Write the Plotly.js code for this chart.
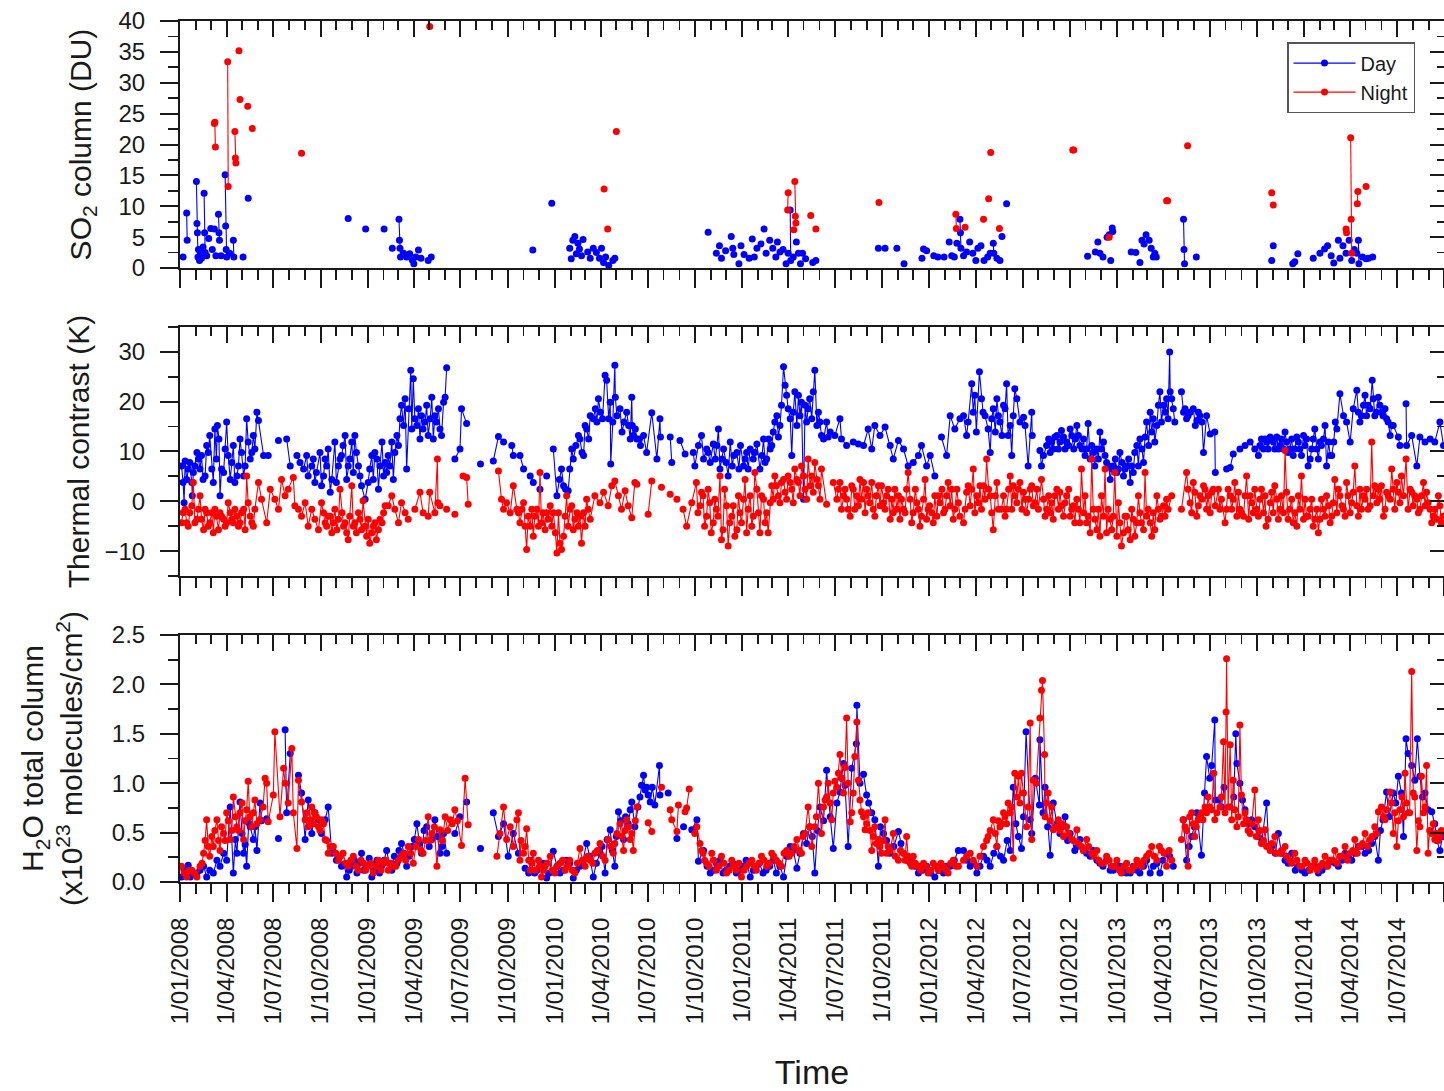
<!DOCTYPE html>
<html>
<head>
<meta charset="utf-8">
<script src="https://cdn.plot.ly/plotly-3.0.1.min.js"></script>
<style>
  html, body { margin: 0; padding: 0; background: #fff; }
  #chart { width: 1444px; height: 1091px; }
</style>
</head>
<body>
<div id="chart"></div>
<script>
// Daily observations, stored as [days since 1 Jan 2008, value].

// SO2 column (DU)
const so2Day = [
  [6,1.8],[13,8.9],[14,4.5],[32,14.0],[33,7.2],[34,5.7],[35,1.8],[36,3.0],[38,1.2],[40,2.5],
  [42,1.6],[45,3.4],[47,12.1],[48,5.7],[49,2.5],[52,2.0],[56,4.8],[60,6.4],[63,3.0],[67,6.3],
  [70,2.0],[75,8.7],[76,5.7],[77,4.5],[80,2.0],[88,15.1],[89,6.8],[90,3.0],[91,1.8],[97,2.4],
  [104,4.5],[105,1.8],[123,1.8],[133,11.3],[328,8.0],[362,6.3],[398,6.3],[414,3.2],[427,7.9],[428,4.5],
  [429,3.2],[430,1.8],[436,2.4],[442,1.8],[448,2.3],[453,1.3],[456,0.7],[460,1.8],[465,2.9],[470,1.6],
  [484,1.2],[490,1.8],[688,2.9],[725,10.5],[760,3.2],[763,1.5],[766,4.5],[770,5.1],[773,2.3],[776,4.0],
  [779,3.1],[783,2.0],[786,4.6],[795,2.6],[800,1.6],[806,3.2],[812,2.5],[818,1.6],[822,3.2],[826,0.9],
  [830,1.8],[836,0.4],[844,1.2],[848,1.6],[1030,5.8],[1046,2.4],[1052,3.6],[1056,1.6],[1064,2.8],[1075,5.1],
  [1078,3.2],[1080,2.2],[1090,0.7],[1094,3.6],[1100,2.2],[1110,1.6],[1116,4.7],[1120,1.8],[1125,3.2],[1133,3.9],
  [1139,6.3],[1143,2.4],[1150,4.5],[1156,3.2],[1162,1.8],[1165,4.2],[1170,2.6],[1176,3.0],[1182,0.7],[1186,2.4],
  [1190,9.4],[1191,1.2],[1196,1.8],[1202,4.2],[1206,2.4],[1210,0.7],[1214,2.4],[1220,1.5],[1234,0.9],[1240,1.2],
  [1362,3.2],[1375,3.2],[1398,3.2],[1412,0.7],[1447,1.6],[1450,3.1],[1456,2.8],[1470,2.0],[1478,1.8],[1490,1.8],
  [1500,4.2],[1505,2.0],[1510,1.8],[1515,4.0],[1521,7.9],[1522,5.7],[1523,3.2],[1528,2.0],[1534,2.6],[1540,4.2],
  [1546,2.4],[1552,1.2],[1556,3.2],[1562,3.6],[1568,1.2],[1575,1.8],[1580,2.4],[1586,4.0],[1587,2.4],[1593,1.6],
  [1599,1.2],[1603,5.1],[1612,10.4],[1770,1.9],[1785,2.6],[1790,4.2],[1794,2.4],[1800,1.8],[1808,5.0],[1812,5.4],
  [1815,1.2],[1818,6.5],[1819,5.9],[1855,2.6],[1864,2.5],[1872,0.9],[1876,4.5],[1880,3.9],[1884,5.4],[1890,4.5],
  [1894,3.2],[1898,1.8],[1901,2.4],[1904,1.8],[1957,7.9],[1958,3.0],[1959,0.7],[1982,1.8],[2129,1.2],[2132,3.6],
  [2170,0.7],[2174,1.0],[2180,2.3],[2210,1.6],[2223,2.4],[2232,3.1],[2238,3.6],[2245,2.0],[2250,0.8],[2259,4.5],
  [2262,1.6],[2268,3.6],[2274,2.4],[2280,4.5],[2285,1.2],[2290,3.0],[2295,2.4],[2298,4.5],[2299,0.7],[2306,1.8],
  [2313,1.5],[2318,1.6],[2326,1.8]
];
const so2Night = [
  [67,23.4],[68,23.6],[69,19.6],[93,33.4],[94,13.2],[107,22.1],[108,17.8],[109,17.0],[115,35.2],[117,27.3],
  [132,26.2],[141,22.6],[237,18.6],[487,39.1],[827,12.8],[834,6.3],[851,22.1],[1185,9.4],[1186,12.2],[1197,6.2],
  [1199,14.0],[1200,8.4],[1201,7.3],[1230,8.5],[1240,6.3],[1363,10.6],[1513,8.7],[1514,6.4],[1531,6.6],[1567,7.9],
  [1577,11.2],[1581,18.7],[1598,6.4],[1741,19.1],[1743,19.1],[1812,5.0],[1924,10.9],[1926,10.9],[1965,19.8],[2129,12.2],
  [2132,10.2],[2274,6.3],[2275,5.7],[2283,21.1],[2284,7.9],[2285,2.4],[2296,10.4],[2297,12.4],[2313,13.2]
];

// Thermal contrast (K)
const tcDay = [
  [3,7.1],[6,3.8],[8,-0.3],[10,8.1],[16,6.5],[23,3.8],[24,1.1],[29,7.1],[33,9.8],[39,6.5],[42,9.2],[49,5.1],
  [52,11.2],[58,13.2],[65,3.8],[68,14.5],[73,15.2],[78,1.1],[81,6.5],[91,15.9],[94,9.2],[98,4.4],[104,11.2],
  [107,3.8],[114,7.1],[120,9.8],[124,5.1],[130,16.6],[133,11.9],[137,8.5],[143,13.2],[146,10.5],[150,17.9],
  [153,16.2],[163,9.2],[172,9.2],[192,12.2],[208,12.5],[215,7.1],[228,9.2],[234,7.8],[241,6.5],[247,9.2],
  [257,7.1],[263,3.8],[273,9.8],[280,5.1],[286,7.1],[293,1.8],[302,11.9],[309,7.1],[315,9.2],[322,13.2],
  [328,7.1],[335,11.9],[341,13.2],[348,7.1],[354,3.1],[361,0.4],[367,3.8],[374,9.2],[380,9.8],[387,2.4],
  [397,5.1],[406,9.2],[413,11.9],[416,4.4],[423,13.2],[429,16.6],[432,19.3],[439,20.6],[442,6.5],[450,26.3],
  [455,24.6],[458,16.6],[465,18.6],[471,17.2],[478,15.9],[484,13.2],[491,20.9],[497,17.2],[504,18.6],[510,13.2],
  [514,19.9],[517,20.9],[520,26.8],[536,8.5],[546,10.5],[549,18.6],[559,15.6],[586,7.5],
  [611,8.1],[621,13.0],[631,11.9],[647,11.2],[650,9.2],[663,9.2],[670,6.5],[683,5.1],[689,3.8],[702,2.4],
  [715,5.1],[728,10.5],[735,1.1],[748,3.1],[757,2.1],[764,10.5],[777,13.2],[787,9.2],[793,14.5],[806,16.6],
  [816,20.6],[829,25.3],[832,24.3],[839,19.9],[840,7.5],[848,27.3],[849,20.9],[858,18.6],[871,17.9],[881,20.9],
  [882,15.2],[884,13.2],[891,12.5],[904,13.2],[910,9.8],[920,17.8],[930,8.5],[936,16.6],[937,12.9],[956,12.9],
  [959,7.8],[975,12.2],[985,9.5],[1001,9.8],[1017,13.2],[1027,10.5],[1034,7.8],[1040,11.5],[1050,14.5],[1053,6.5],
  [1069,5.1],[1073,11.9],[1086,9.8],[1099,7.1],[1105,9.8],[1125,11.5],[1131,6.5],[1144,8.5],[1151,10.5],[1160,15.9],
  [1167,12.9],[1173,19.3],[1177,27.0],[1180,23.3],[1186,18.6],[1193,9.2],[1199,22.0],[1206,21.3],[1212,19.9],[1216,0.4],
  [1219,19.3],[1225,18.6],[1235,22.0],[1238,26.3],[1245,17.9],[1251,13.2],[1261,15.9],[1268,13.9],[1277,13.2],[1287,16.6],
  [1290,12.5],[1300,11.2],[1313,11.9],[1323,11.5],[1333,11.2],[1342,14.5],[1349,10.5],[1355,15.2],[1365,13.2],[1375,14.9],
  [1385,11.2],[1391,8.5],[1401,12.2],[1411,10.5],[1420,7.1],[1430,7.8],[1440,9.2],[1446,11.2],[1456,7.1],[1463,9.2],
  [1472,5.1],[1485,12.9],[1495,9.2],[1502,17.2],[1511,14.5],[1521,16.6],
  [1528,17.2],[1534,13.2],[1544,23.6],[1550,21.3],[1559,26.0],[1563,20.6],[1570,17.2],[1580,9.8],[1586,18.6],[1593,20.6],
  [1599,15.9],[1606,19.3],[1612,23.6],[1615,13.2],[1622,9.2],[1628,22.6],[1632,20.6],[1645,16.9],[1648,15.2],[1654,7.1],
  [1661,17.9],[1662,13.2],[1677,10.2],[1680,7.1],[1690,11.2],[1700,11.9],[1710,13.2],[1719,14.2],[1729,11.9],[1739,13.2],
  [1749,15.2],[1755,11.2],[1765,9.2],[1771,15.6],[1775,8.5],[1784,7.1],[1794,13.9],[1801,11.9],[1807,7.8],[1814,4.4],
  [1820,7.1],[1827,5.8],[1833,9.8],[1840,5.1],[1846,7.1],[1853,3.8],[1862,9.8],[1872,12.5],[1879,7.8],[1885,15.9],
  [1892,17.9],[1901,11.9],[1911,22.0],[1918,19.3],[1924,20.6],[1930,30.0],[1931,22.0],[1937,18.6],[1953,22.0],[1960,18.6],
  [1966,17.2],[1976,18.6],[1983,16.2],[1989,17.2],[1996,9.8],[2002,17.2],[2009,13.5],[2018,13.9],[2019,5.8],[2041,6.5],
  [2048,6.8],[2054,9.5],[2067,10.5],[2077,11.2],[2087,11.9],[2096,10.5],[2103,9.2],[2109,12.5],[2119,11.9],[2129,12.5],
  [2135,10.5],[2145,11.2],[2155,13.9],[2164,10.5],[2171,9.2],[2181,11.9],[2191,13.2],[2200,7.1],[2207,10.5],[2213,14.5],
  [2223,11.9],[2233,15.2],[2236,7.1],[2246,9.2],[2256,14.5],[2262,21.6],[2269,17.2],[2275,15.9],[2282,11.9],[2288,18.6],
  [2295,22.3],[2304,17.2],[2311,21.3],[2317,19.3],[2325,24.3],[2330,17.2],[2337,20.9],[2343,17.9],[2353,16.6],[2360,13.2],
  [2366,15.2],[2376,12.9],[2379,11.2],[2391,19.6],[2392,11.2],[2402,13.2],[2412,7.1],[2418,12.9],[2428,11.9],[2438,12.5],
  [2447,11.9],[2457,15.9],[2464,11.2],
  [13,4.4],[19,7.8],[26,5.8],[36,8.5],[45,4.4],[55,9.8],[62,6.5],[71,8.5],[76,12.5],[85,5.8],[88,10.5],[101,7.8],
  [111,5.1],[117,12.5],[127,7.1],[140,9.8],
  [250,5.1],[260,8.5],[266,5.8],[276,3.1],[283,8.5],[289,10.5],[296,4.4],[305,3.8],[312,8.5],[318,11.2],[325,4.4],
  [331,8.5],[338,5.8],[344,9.8],[351,5.1],
  [370,6.5],[377,4.4],[384,8.5],[390,7.1],[394,11.9],[400,7.8],[403,5.8],[409,7.1],[419,9.8],[426,11.2],[436,15.2],
  [446,18.6],[452,14.5],[462,15.2],[468,12.5],[474,14.5],[481,19.3],[488,16.6],[494,12.5],[500,15.9],[507,14.5],
  [740,4.4],[744,6.5],[752,2.4],[760,6.5],[767,8.5],[772,11.2],[780,12.5],[784,9.8],[790,15.2],[797,12.5],[800,17.2],
  [810,18.6],[813,15.9],[820,17.9],[824,16.6],[836,16.6],[844,15.9],[852,17.2],[862,13.9],[866,15.9],[875,15.2],
  [878,12.5],[888,14.5],[895,12.5],[898,11.2],
  [1004,7.1],[1011,11.2],[1021,8.5],[1030,9.8],[1044,8.5],[1047,11.2],[1057,8.5],[1060,10.5],[1065,7.8],[1077,7.1],
  [1080,9.2],[1090,6.5],[1093,11.2],[1102,8.5],[1108,6.5],[1112,10.5],[1118,8.5],[1121,9.8],[1135,9.2],[1138,12.5],
  [1141,7.8],[1148,12.5],[1154,11.2],[1157,13.9],[1164,17.2],[1170,15.2],
  [1183,21.3],[1190,16.6],[1196,17.9],[1203,15.2],[1209,17.2],[1222,15.9],[1228,20.6],[1232,16.6],[1242,15.2],[1248,15.9],
  [1255,12.5],[1264,12.9],
  [1537,15.9],[1547,17.9],[1553,13.9],[1566,17.9],[1576,14.5],[1583,16.6],[1590,13.9],[1596,17.2],[1603,13.2],[1609,18.6],
  [1619,15.2],[1625,17.2],[1638,15.9],
  [1684,9.2],[1694,12.5],[1697,9.8],[1703,10.5],[1706,12.9],[1713,10.5],[1716,11.9],[1723,12.9],[1726,10.5],[1733,11.2],
  [1736,14.5],[1743,10.5],[1746,12.5],[1752,13.2],[1759,10.5],[1762,12.5],[1768,10.5],[1778,11.2],[1781,9.8],[1788,10.5],
  [1791,8.5],[1797,10.5],[1804,9.2],[1811,7.1],[1817,6.5],[1824,8.5],[1830,6.5],[1837,7.8],[1843,6.5],[1850,8.5],
  [1856,7.1],[1859,5.8],
  [1866,11.2],[1869,7.1],[1876,10.5],[1882,12.9],[1889,11.2],[1895,13.9],[1898,16.6],[1905,15.2],[1908,19.3],[1914,15.9],
  [1921,17.9],[1927,16.6],[1934,20.6],[1940,15.9],[1957,17.9],[1963,16.6],[1970,17.9],[1980,15.2],[1986,17.9],[1993,15.9],
  [2106,11.2],[2113,10.5],[2116,12.5],[2122,10.5],[2126,12.9],[2132,11.9],[2139,12.9],[2142,10.5],[2148,12.5],[2152,10.5],
  [2158,11.9],[2161,9.8],[2168,12.5],[2174,10.5],[2178,12.9],[2184,10.5],[2187,9.2],[2194,11.2],[2197,12.5],[2204,8.5],
  [2210,12.5],[2217,10.5],[2220,8.5],[2226,11.2],[2230,12.5],[2240,11.9],[2243,9.2],[2250,11.9],[2253,15.9],
  [2298,17.9],[2301,15.9],[2308,19.3],[2314,17.2],[2321,18.6],[2327,20.6],[2333,17.9],[2340,19.3],[2346,17.2],[2350,18.6],
  [2356,15.9],[2363,15.2]
];
const tcNight = [
  [3,-4.3],[10,-1.6],[16,-5.0],[23,-0.9],[26,3.8],[33,-3.6],[39,1.1],[46,-5.7],[52,-2.3],[58,-4.3],
  [68,-1.6],[75,-5.7],[81,-3.0],[88,-5.0],[94,-0.3],[101,-3.6],[107,-1.6],[114,-5.0],[120,-2.3],[127,-5.7],
  [130,5.1],[133,-0.3],[140,-4.3],[146,-1.6],[153,3.8],[159,0.4],[169,-4.3],[176,2.4],[185,0.4],[192,-1.6],
  [198,4.4],[205,1.1],[211,2.4],[221,4.8],[224,-0.9],[231,-1.6],[237,-3.0],[244,-0.3],[250,-5.0],[257,-1.6],
  [263,-3.6],[270,-5.7],[276,-0.3],[283,-4.3],[289,-3.0],[296,-6.3],[302,-1.6],[309,-3.6],[312,2.4],[319,-5.0],
  [328,-7.7],[335,3.1],[341,-4.3],[348,-2.3],[354,-5.7],[357,0.1],[364,-7.0],[370,-8.4],[377,-5.0],[383,-7.7],
  [390,-3.6],[397,-2.3],[406,-0.9],[413,1.1],[419,-1.6],[426,-4.3],[432,-0.3],[439,-2.3],[445,-3.6],[458,-1.6],
  [468,1.8],[474,-2.3],[484,-3.0],[487,1.8],[497,-2.3],[502,8.5],[503,-0.3],[507,-0.9],[520,-1.6],[536,-2.6],
  [552,5.1],[559,4.8],[562,-0.6],
  [621,6.1],[627,0.4],[631,-1.6],[637,-0.3],[644,-2.3],[650,3.1],[657,-1.6],[663,-4.3],[670,-0.3],[676,-9.7],
  [683,-5.0],[692,-3.0],[702,5.8],[705,-4.3],[715,-2.3],[725,-5.0],[735,-10.4],[741,-8.4],[748,-7.0],[754,1.1],
  [761,-1.6],[770,-3.6],[780,-3.0],[783,-8.4],[793,0.4],[800,-3.6],[809,1.1],[819,-0.3],[826,1.8],[835,-0.9],
  [842,3.1],[848,4.1],[855,1.1],[861,-1.6],[868,2.1],[874,-0.9],[881,-3.3],[887,3.8],[891,3.4],[913,-2.6],
  [920,4.1],[939,2.8],[956,1.4],[969,0.4],[981,-1.6],[988,-5.0],[998,-0.3],[1007,3.8],[1014,-0.9],[1020,1.1],
  [1027,-3.0],[1033,-0.3],[1040,-4.3],[1046,-1.6],[1053,5.1],[1059,-5.7],[1066,-0.9],[1069,-9.0],[1076,-3.0],[1082,-7.0],
  [1089,1.1],[1095,-4.3],[1102,4.4],[1108,-1.6],[1115,-5.0],[1121,5.8],[1128,-2.3],[1134,1.1],[1141,-4.3],[1147,-6.3],
  [1154,3.1],[1160,5.1],[1167,1.1],[1173,3.8],[1180,1.8],[1186,5.1],[1193,2.4],[1199,6.5],[1206,3.8],[1212,7.1],
  [1219,2.4],[1225,8.5],[1232,5.1],[1238,7.8],[1245,3.1],[1251,6.5],[1261,-0.6],[1274,3.8],[1284,2.4],[1294,1.1],
  [1303,-1.6],[1313,2.4],[1323,-0.9],[1333,3.8],[1342,1.1],[1352,-1.6],[1362,3.1],[1372,-0.3],[1381,2.4],[1391,-2.3],
  [1401,1.1],[1411,-1.6],[1420,5.8],[1427,-4.3],[1437,-0.3],[1446,-3.0],[1453,4.4],[1459,-1.6],[1469,-4.3],[1479,1.1],
  [1489,-2.3],[1498,3.8],[1508,-3.6],[1518,-0.3],
  [1528,-4.3],[1537,3.1],[1547,6.5],[1557,-0.3],[1567,3.1],[1573,8.5],[1580,1.1],[1586,-5.7],[1593,3.8],[1602,-1.6],
  [1612,-1.6],[1619,5.1],[1628,1.1],[1638,3.8],[1648,0.4],[1658,2.4],[1667,-0.3],[1680,4.4],[1690,-1.6],[1697,-2.3],
  [1710,2.4],[1719,-0.9],[1729,1.1],[1739,-1.6],[1749,0.4],[1758,6.5],[1768,-4.3],[1778,8.5],[1781,-1.6],[1788,-5.7],
  [1797,1.1],[1804,6.5],[1810,-1.6],[1817,-5.7],[1823,5.8],[1830,-0.3],[1836,-9.0],[1843,-3.0],[1849,-5.7],[1856,-1.6],
  [1862,-7.0],[1869,1.1],[1875,-4.3],[1882,5.8],[1888,-1.6],[1895,-7.0],[1905,1.1],[1914,-3.0],[1924,0.4],[1934,1.1],
  [1953,-1.6],[1963,5.8],[1970,-0.3],[1976,3.8],[1983,-3.0],[1989,1.1],[1999,2.4],[2015,2.4],[2025,2.4],[2038,-4.3],
  [2048,1.1],[2057,3.8],[2067,-1.6],[2074,-3.0],[2080,5.1],[2090,-0.3],[2100,-1.6],[2109,2.4],[2118,-5.0],[2126,-0.3],
  [2135,3.1],[2145,-1.6],[2155,10.2],[2158,1.8],[2164,-1.6],[2171,-4.3],[2181,1.1],[2187,5.1],[2197,-3.0],[2204,-1.6],
  [2210,-5.0],[2220,-6.3],[2230,-1.6],[2236,1.1],[2246,-3.0],[2252,4.4],[2262,1.1],[2269,-1.6],[2275,3.8],[2285,-0.3],
  [2291,7.1],[2298,-3.0],[2308,1.1],[2317,-1.6],[2324,11.9],[2327,1.1],[2337,2.4],[2347,-3.0],[2356,1.1],[2363,6.5],
  [2373,3.8],[2382,5.1],[2391,8.5],[2399,2.4],[2408,1.1],[2418,-1.6],[2425,3.8],[2434,-0.3],[2444,-3.0],[2454,1.1],
  [2460,-4.3],
  [6,-2.3],[13,-4.3],[19,-2.3],[29,-4.3],[36,-1.6],[42,-3.6],[49,-1.6],[55,-5.0],[62,-2.3],[65,-6.3],[71,-3.0],
  [78,-2.3],[85,-3.6],[91,-4.3],[98,-2.3],[104,-4.3],[111,-3.0],[117,-4.3],[124,-1.6],[137,-3.0],[143,-5.0],
  [280,-2.3],[286,-5.0],[293,-3.0],[299,-4.3],[306,-5.7],[316,-2.3],[322,-4.3],[325,-6.3],[331,-3.0],[338,-5.0],
  [344,-6.3],[351,-3.6],[361,-5.0],[367,-3.6],[374,-6.3],[380,-4.3],[387,-5.7],[394,-4.3],[400,-0.9],
  [660,-2.3],[667,-1.6],[673,-5.0],[679,-3.0],[686,-1.6],[689,-7.0],[696,-1.6],[699,-5.0],[708,-2.3],[712,-5.7],
  [718,-3.6],[722,-0.9],[728,-2.3],[732,-6.3],[738,-2.3],[744,-9.7],[751,-3.0],[757,-5.0],[764,-0.9],[767,-5.7],
  [774,-2.3],[777,-5.0],[787,-2.3],[790,-5.0],[796,-1.6],
  [1010,-2.3],[1017,1.8],[1023,-5.0],[1030,2.4],[1036,-6.3],[1043,0.4],[1049,-3.0],[1056,-7.7],[1062,2.4],[1072,-4.3],
  [1079,-0.9],[1086,-5.7],[1092,-2.3],[1099,0.4],[1105,-6.3],[1112,1.1],[1118,-3.0],[1125,2.4],[1131,-6.3],[1138,0.4],
  [1144,-2.3],[1151,-0.3],[1157,0.4],[1163,3.1],[1170,-0.3],[1177,4.4],[1183,0.4],[1190,3.8],[1196,-0.3],[1203,4.4],
  [1209,1.1],[1216,5.1],[1222,0.4],[1229,3.1],[1235,1.8],[1242,4.4],[1248,0.4],
  [1281,0.4],[1287,3.8],[1290,-1.6],[1297,2.4],[1300,0.4],[1307,-3.0],[1310,3.1],[1316,-1.6],[1320,1.1],[1326,4.4],
  [1329,0.4],[1336,-2.3],[1339,2.4],[1345,-0.3],[1349,3.8],[1355,-3.0],[1358,1.1],[1365,-0.9],[1368,3.1],[1375,-1.6],
  [1378,1.1],[1385,-3.6],[1388,0.4],[1394,2.4],[1398,-1.6],[1404,-3.6],[1407,0.4],[1414,-2.3],[1417,2.4],[1424,0.4],
  [1430,-2.3],[1434,2.4],[1440,-1.6],[1443,-5.0],[1450,0.4],[1456,-3.6],[1462,-0.9],[1466,-2.3],[1472,1.1],[1476,-3.0],
  [1482,-0.3],[1486,2.4],[1492,-1.6],[1495,1.1],[1502,-0.9],[1505,2.4],[1511,-1.6],[1515,2.4],[1521,-3.0],
  [1531,-1.6],[1534,1.8],[1541,-0.9],[1544,2.4],[1550,-2.3],[1554,1.1],[1560,3.1],[1563,-1.6],[1570,0.4],[1577,2.4],
  [1583,-2.3],[1590,1.1],[1596,-1.6],[1606,1.1],[1609,-3.0],[1616,2.4],[1622,-1.6],[1625,3.1],[1632,-0.3],[1635,2.4],
  [1642,-1.6],[1645,1.8],[1651,-2.3],[1655,0.4],[1661,3.1],[1664,-0.9],[1671,2.4],[1674,-1.6],[1684,0.4],[1687,-3.0],
  [1694,1.1],[1700,-0.3],[1703,-3.6],[1706,1.1],[1713,-1.6],[1716,1.8],[1723,-3.0],[1726,-0.3],[1733,2.4],[1736,-3.0],
  [1742,-0.9],[1745,-4.3],[1752,-1.6],[1755,-4.3],[1762,-2.3],[1765,1.1],[1771,-3.0],[1775,-6.3],[1784,-3.6],[1791,-1.6],
  [1794,-7.0],[1801,-3.0],[1807,-6.3],[1814,-3.6],[1820,-3.0],[1827,-7.0],[1833,-4.3],[1840,-6.3],[1846,-3.0],[1853,-7.7],
  [1859,-3.6],[1866,-4.3],[1872,-2.3],[1879,-5.7],[1885,-3.0],[1892,-4.3],[1898,-2.3],[1901,-5.7],[1908,-1.6],[1911,-3.6],
  [1918,-0.9],[1921,-3.0],[1927,-1.6],
  [1966,2.4],[1973,-2.3],[1979,1.8],[1986,-0.9],[1993,0.4],[1996,3.1],[2002,-1.6],[2005,1.1],[2009,-2.3],[2012,1.8],
  [2019,-0.9],[2028,-1.6],[2031,0.4],[2041,-1.6],[2044,2.4],[2051,-1.6],[2054,0.4],[2061,-3.0],[2064,1.8],[2070,-2.3],
  [2077,1.1],[2084,-3.6],[2087,1.1],[2093,-2.3],[2096,2.4],[2103,-3.0],[2106,0.4],[2113,-2.3],[2116,1.1],[2122,-3.6],
  [2129,1.8],[2132,-2.3],[2139,0.4],[2142,-3.6],[2148,1.1],[2152,-2.3],[2161,-3.6],[2168,0.4],[2174,-2.3],[2178,-5.0],
  [2184,-1.6],[2191,-3.6],[2194,0.4],[2200,-3.0],[2207,0.4],[2213,-3.6],[2217,-1.6],[2223,-3.6],[2226,0.4],[2233,-3.0],
  [2240,-0.9],[2243,-4.3],[2249,-0.3],[2256,-2.3],[2259,2.4],[2266,-0.9],[2272,-3.0],[2278,1.1],[2282,-2.3],[2288,1.8],
  [2295,-0.9],[2301,2.4],[2304,-1.6],[2311,0.4],[2314,2.4],[2321,-0.9],[2330,3.1],[2334,-0.3],[2340,0.4],[2343,3.1],
  [2350,-1.6],[2353,1.8],[2360,0.4],[2366,2.4],[2369,-1.6],[2376,1.8],[2379,-0.3],[2386,1.1],[2395,-1.6],[2402,1.8],
  [2405,-0.9],[2412,0.4],[2415,-2.3],[2421,1.1],[2428,-0.9],[2431,1.8],[2438,-1.6],[2441,-4.3],[2447,-1.6],[2451,-3.6],
  [2457,-0.9],[2463,-3.0]
];

// H2O total column (x10^23 molecules/cm^2)
const h2oDay = [
  [3,0.05],[16,0.17],[26,0.09],[39,0.12],[52,0.05],[65,0.09],[78,0.16],[91,0.22],[98,0.76],[104,0.09],
  [111,0.29],[117,0.81],[124,0.29],[130,0.16],[137,0.56],[143,0.43],[150,0.32],[156,0.80],[169,0.64],[192,0.44],
  [205,1.54],[208,0.70],[215,1.30],[231,1.08],[237,0.90],[244,0.43],[250,0.83],[257,0.49],[263,0.70],[270,0.63],
  [276,0.49],[283,0.63],[289,0.76],[296,0.29],[305,0.22],[315,0.16],[325,0.05],[335,0.16],[345,0.09],[354,0.29],
  [364,0.16],[374,0.05],[384,0.22],[393,0.16],[403,0.32],[413,0.12],[423,0.19],[432,0.39],[442,0.16],[452,0.36],
  [462,0.59],[471,0.29],[481,0.56],[491,0.43],[497,0.63],[507,0.29],[514,0.49],[520,0.29],[536,0.49],[546,0.66],
  [559,0.81],[586,0.34],
  [611,0.70],[621,0.46],[631,0.59],[640,0.26],[650,0.49],[660,0.29],[673,0.14],[683,0.22],[692,0.09],[702,0.16],
  [715,0.04],[728,0.31],[741,0.09],[754,0.22],[767,0.04],[780,0.16],[793,0.39],[806,0.05],[819,0.29],[829,0.09],
  [839,0.53],[848,0.16],[855,0.71],[865,0.43],[874,0.59],[881,0.81],[887,0.56],[897,0.86],[904,1.08],[910,0.96],
  [917,0.81],[926,0.78],[935,1.18],[936,0.88],[952,0.90],[969,0.44],[982,0.56],[998,0.53],[1008,0.63],[1011,0.21],
  [1021,0.32],[1034,0.09],[1046,0.19],[1059,0.09],[1072,0.16],[1085,0.09],[1098,0.16],[1112,0.05],[1124,0.16],[1137,0.09],
  [1150,0.16],[1163,0.09],[1177,0.05],[1190,0.36],[1203,0.14],[1216,0.49],[1228,0.56],[1238,0.09],[1248,0.76],[1261,1.13],
  [1268,0.66],[1274,0.34],[1281,0.80],[1287,0.91],[1294,1.20],[1303,0.36],[1310,1.15],[1319,1.40],[1320,1.79],[1333,1.09],
  [1339,0.88],[1349,0.70],[1355,0.63],[1362,0.16],[1372,0.49],[1385,0.29],[1401,0.51],[1411,0.29],[1427,0.22],[1440,0.09],
  [1456,0.16],[1472,0.05],[1489,0.09],[1502,0.16],[1518,0.32],
  [1528,0.32],[1541,0.16],[1554,0.09],[1567,0.26],[1580,0.16],[1593,0.36],[1606,0.22],[1619,0.32],[1625,0.96],[1635,0.46],
  [1641,0.34],[1650,1.52],[1658,0.63],[1661,0.49],[1676,0.78],[1677,1.44],[1687,0.96],[1697,0.27],[1703,0.80],[1710,0.59],
  [1716,0.49],[1726,0.66],[1736,0.49],[1745,0.32],[1755,0.43],[1768,0.29],[1781,0.32],[1794,0.19],[1807,0.22],[1820,0.12],
  [1833,0.16],[1846,0.09],[1859,0.16],[1872,0.09],[1885,0.22],[1898,0.16],[1911,0.09],[1924,0.29],[1937,0.16],[1957,0.63],
  [1963,0.22],[1973,0.46],[1983,0.70],[1992,0.27],[2002,1.27],[2012,1.18],[2018,1.64],[2019,0.83],[2031,0.76],[2048,0.76],
  [2059,1.50],[2061,1.20],[2067,1.00],[2077,0.73],[2090,0.63],[2103,0.46],[2119,0.80],[2129,0.36],[2142,0.49],[2155,0.22],
  [2168,0.29],[2181,0.16],[2194,0.09],[2207,0.16],[2220,0.09],[2233,0.16],[2246,0.22],[2259,0.16],[2272,0.29],[2285,0.22],
  [2298,0.36],[2311,0.29],[2324,0.39],[2337,0.22],[2346,0.63],[2353,0.91],[2366,0.90],[2376,1.07],[2386,0.46],[2391,1.45],
  [2395,1.30],[2402,1.18],[2408,1.03],[2413,1.45],[2418,1.07],[2428,0.90],[2434,0.73],[2441,0.71],[2447,0.59],[2457,0.32],
  [8,0.12],[20,0.05],[33,0.09],[46,0.16],[58,0.12],[72,0.22],[85,0.29],[108,0.43],[121,0.49],[127,0.38],[134,0.60],
  [146,0.56],[159,0.62],
  [298,0.32],[310,0.25],[320,0.18],[330,0.12],[340,0.22],[350,0.19],[358,0.12],[369,0.24],[379,0.12],[389,0.09],
  [398,0.22],[408,0.19],[418,0.26],[427,0.32],[437,0.29],[447,0.26],[457,0.43],[467,0.39],[476,0.52],[486,0.36],
  [502,0.46],[511,0.36],
  [680,0.09],[696,0.12],[708,0.19],[720,0.09],[735,0.16],[747,0.12],[760,0.19],[773,0.12],[786,0.22],[799,0.26],
  [812,0.19],[823,0.36],[833,0.43],[843,0.32],[851,0.46],[860,0.62],[869,0.66],[878,0.73],[893,0.76],[900,0.98],
  [907,0.93],[913,0.88],[921,0.96],
  [1028,0.16],[1040,0.12],[1053,0.22],[1065,0.12],[1078,0.19],[1091,0.12],[1104,0.22],[1118,0.12],[1130,0.19],[1143,0.12],
  [1157,0.22],[1170,0.16],[1183,0.26],[1196,0.32],[1209,0.29],[1222,0.39],[1233,0.46],[1243,0.52],[1255,0.62],[1290,1.05],
  [1297,0.98],[1326,1.00],[1343,0.80],[1366,0.56],[1378,0.42],[1392,0.36],[1406,0.39],[1418,0.22],[1434,0.16],[1448,0.12],
  [1464,0.09],[1480,0.12],[1495,0.16],[1510,0.22],
  [1535,0.22],[1548,0.19],[1560,0.16],[1574,0.22],[1587,0.29],[1600,0.26],[1613,0.42],[1630,0.59],[1645,0.66],[1668,1.05],
  [1683,0.70],[1692,0.56],[1720,0.56],[1731,0.42],[1750,0.36],[1762,0.32],[1775,0.26],[1788,0.22],[1800,0.16],[1814,0.12],
  [1827,0.16],[1840,0.12],[1853,0.09],[1866,0.12],[1879,0.16],[1892,0.09],[1905,0.19],[1917,0.22],[1930,0.26],
  [1968,0.36],[1978,0.56],[1998,0.90],[2008,1.05],[2025,0.83],[2036,0.96],[2055,0.86],[2072,0.83],[2084,0.59],[2096,0.56],
  [2110,0.42],[2123,0.36],[2136,0.29],[2148,0.29],[2161,0.19],[2175,0.12],[2188,0.12],[2201,0.12],[2214,0.16],[2227,0.12],
  [2240,0.19],[2253,0.19],[2266,0.22],[2279,0.26],[2292,0.29],[2305,0.36],[2318,0.32],[2330,0.46],[2341,0.52],[2358,0.66],
  [2371,0.80],[2382,0.90],[2423,0.86],[2451,0.42],[2462,0.46]
];
const h2oNight = [
  [3,0.16],[13,0.05],[23,0.12],[33,0.05],[39,0.16],[46,0.29],[52,0.63],[58,0.26],[65,0.36],[72,0.63],
  [78,0.32],[85,0.49],[91,0.70],[98,0.43],[104,0.86],[111,0.56],[117,0.70],[124,0.43],[130,0.73],[133,1.02],
  [140,0.56],[146,0.83],[156,0.63],[166,1.05],[169,1.00],[172,0.61],[182,0.88],[185,1.52],[195,0.66],[202,1.15],
  [205,1.00],[211,0.80],[218,1.35],[221,0.70],[228,0.34],[231,1.03],[237,0.81],[244,0.63],[250,0.56],[257,0.76],
  [263,0.70],[270,0.56],[276,0.63],[283,0.43],[289,0.29],[299,0.36],[309,0.22],[318,0.29],[328,0.16],[338,0.26],
  [348,0.12],[358,0.19],[367,0.16],[377,0.09],[387,0.22],[397,0.19],[406,0.12],[416,0.16],[426,0.22],[436,0.29],
  [445,0.36],[455,0.19],[465,0.43],[474,0.29],[484,0.66],[491,0.49],[501,0.16],[507,0.53],[517,0.66],[527,0.63],
  [536,0.73],[549,0.37],[556,1.05],[562,0.58],
  [618,0.26],[624,0.49],[631,0.76],[637,0.43],[644,0.56],[650,0.36],[657,0.63],[660,0.70],[663,0.22],[670,0.29],
  [676,0.54],[683,0.12],[689,0.29],[699,0.22],[705,0.05],[712,0.16],[722,0.26],[731,0.09],[741,0.19],[751,0.12],
  [760,0.22],[770,0.09],[780,0.34],[790,0.16],[800,0.22],[809,0.29],[819,0.39],[829,0.22],[835,0.43],[845,0.29],
  [852,0.49],[858,0.59],[865,0.32],[871,0.63],[878,0.43],[884,0.32],[891,0.76],[913,0.60],[920,0.51],[939,0.96],
  [956,0.73],[959,0.63],[969,0.51],[972,0.78],[985,0.71],[988,0.75],[993,0.94],[1004,0.49],[1014,0.39],[1020,0.29],
  [1027,0.19],[1037,0.29],[1046,0.12],[1056,0.26],[1066,0.09],[1076,0.22],[1085,0.12],[1095,0.05],[1105,0.16],[1115,0.22],
  [1124,0.12],[1134,0.26],[1144,0.16],[1154,0.29],[1163,0.22],[1173,0.16],[1183,0.32],[1193,0.29],[1203,0.43],[1212,0.29],
  [1219,0.49],[1225,0.76],[1232,0.36],[1238,0.56],[1245,1.00],[1251,0.49],[1258,0.83],[1264,1.00],[1271,0.63],[1277,1.02],
  [1284,1.10],[1287,1.29],[1294,0.90],[1300,1.66],[1303,1.00],[1307,0.61],[1310,0.70],[1313,0.90],[1316,1.27],[1320,1.62],
  [1323,1.03],[1326,0.83],[1329,0.71],[1336,0.53],[1342,0.70],[1349,0.32],[1355,0.56],[1362,0.43],[1368,0.29],[1375,0.63],
  [1381,0.36],[1391,0.49],[1401,0.22],[1411,0.29],[1417,0.46],[1424,0.19],[1430,0.26],[1440,0.16],[1450,0.19],[1459,0.09],
  [1469,0.19],[1479,0.12],[1489,0.16],[1498,0.09],[1508,0.22],[1518,0.16],
  [1528,0.22],[1541,0.29],[1554,0.16],[1567,0.36],[1576,0.46],[1586,0.63],[1593,0.36],[1599,0.56],[1606,0.70],[1612,0.59],
  [1619,0.70],[1625,0.24],[1628,1.10],[1635,1.07],[1641,1.10],[1651,0.56],[1658,1.61],[1661,0.43],[1664,1.03],[1677,1.66],
  [1680,1.94],[1682,2.04],[1686,1.29],[1687,0.66],[1693,0.90],[1700,0.76],[1703,0.53],[1713,0.63],[1723,0.46],[1729,0.56],
  [1739,0.43],[1749,0.53],[1758,0.36],[1768,0.43],[1778,0.29],[1788,0.32],[1797,0.19],[1807,0.26],[1817,0.16],[1827,0.22],
  [1836,0.09],[1846,0.19],[1856,0.12],[1866,0.22],[1875,0.16],[1885,0.26],[1895,0.36],[1905,0.22],[1914,0.32],[1924,0.16],
  [1934,0.22],[1953,0.43],[1960,0.56],[1966,0.16],[1973,0.70],[1979,0.46],[1986,0.63],[1992,0.70],[1999,0.76],[2005,0.86],
  [2012,0.73],[2016,1.10],[2018,0.63],[2028,0.76],[2035,1.42],[2040,1.72],[2041,2.26],[2048,1.39],[2051,0.63],[2054,1.03],
  [2061,0.56],[2067,1.59],[2070,0.88],[2080,0.63],[2087,0.49],[2096,0.93],[2103,0.63],[2109,0.39],[2116,0.53],[2126,0.32],
  [2135,0.46],[2145,0.29],[2155,0.36],[2164,0.22],[2174,0.29],[2184,0.16],[2194,0.22],[2204,0.12],[2213,0.22],[2223,0.16],
  [2233,0.26],[2243,0.22],[2252,0.32],[2262,0.26],[2272,0.36],[2282,0.29],[2291,0.43],[2301,0.36],[2311,0.49],[2321,0.43],
  [2330,0.56],[2337,0.71],[2343,0.76],[2350,0.63],[2360,0.91],[2366,0.49],[2373,0.36],[2379,0.73],[2389,1.10],[2395,0.70],
  [2402,2.13],[2405,0.90],[2412,0.32],[2418,0.56],[2421,1.07],[2428,0.76],[2431,1.18],[2434,0.29],[2441,0.49],[2447,0.43],
  [2457,0.46],
  [8,0.09],[18,0.12],[28,0.09],[43,0.19],[49,0.42],[55,0.36],[62,0.46],[68,0.52],[75,0.42],[81,0.56],[88,0.42],
  [94,0.62],[101,0.52],[108,0.66],[114,0.52],[121,0.80],[127,0.62],[136,0.66],[143,0.70],[150,0.59],[162,0.76],
  [247,0.70],[254,0.63],[260,0.59],[266,0.66],[273,0.52],[280,0.59],[286,0.42],[293,0.36],[304,0.29],[313,0.26],
  [323,0.19],[333,0.22],[343,0.16],[353,0.22],[362,0.12],[372,0.19],[382,0.16],[392,0.12],[401,0.22],[411,0.19],
  [421,0.16],[431,0.26],[440,0.22],[450,0.29],[460,0.36],[470,0.32],[479,0.42],[488,0.42],[496,0.56],[512,0.42],
  [522,0.52],[531,0.59],[541,0.62],
  [665,0.42],[673,0.36],[680,0.22],[686,0.19],[693,0.12],[702,0.16],[709,0.12],[716,0.19],[726,0.12],[736,0.16],
  [746,0.22],[756,0.16],[765,0.12],[775,0.19],[785,0.22],[795,0.26],[805,0.19],[814,0.32],[824,0.26],[840,0.36],
  [848,0.39],[862,0.46],[868,0.52],[875,0.56],[881,0.49],[888,0.62],
  [1008,0.56],[1017,0.32],[1023,0.22],[1032,0.16],[1041,0.22],[1051,0.16],[1061,0.19],[1071,0.12],[1080,0.16],[1090,0.19],
  [1100,0.12],[1110,0.19],[1120,0.16],[1129,0.19],[1139,0.22],[1149,0.19],[1158,0.26],[1168,0.19],[1178,0.29],[1188,0.26],
  [1198,0.36],[1208,0.32],[1215,0.46],[1228,0.56],[1241,0.66],[1255,0.76],[1261,0.86],[1268,0.80],[1274,0.90],[1281,0.96],
  [1291,1.05],[1297,1.16],[1333,0.66],[1339,0.59],[1346,0.52],[1352,0.46],[1358,0.39],[1365,0.36],[1371,0.42],[1378,0.29],
  [1385,0.32],[1395,0.26],[1405,0.32],[1414,0.22],[1420,0.26],[1427,0.16],[1434,0.19],[1444,0.12],[1454,0.16],[1464,0.12],
  [1474,0.16],[1484,0.19],[1494,0.12],[1503,0.19],[1513,0.16],
  [1534,0.26],[1547,0.22],[1560,0.26],[1573,0.42],[1580,0.52],[1590,0.49],[1596,0.62],[1603,0.59],[1609,0.66],[1615,0.80],
  [1622,0.76],[1632,0.86],[1638,0.80],[1645,0.90],[1654,0.76],[1670,1.00],[1690,0.80],[1697,0.62],[1707,0.56],[1716,0.52],
  [1720,0.59],[1733,0.49],[1742,0.42],[1752,0.39],[1762,0.32],[1772,0.36],[1782,0.26],[1792,0.22],[1801,0.19],[1812,0.22],
  [1822,0.16],[1832,0.12],[1841,0.16],[1851,0.12],[1861,0.16],[1870,0.19],[1880,0.22],[1890,0.29],[1900,0.26],[1910,0.36],
  [1919,0.29],[1929,0.32],
  [1956,0.63],[1963,0.52],[1969,0.66],[1976,0.59],[1982,0.56],[1989,0.66],[1995,0.63],[2002,0.70],[2008,0.76],[2022,0.70],
  [2031,0.86],[2038,0.70],[2044,0.76],[2057,0.73],[2064,0.66],[2074,0.59],[2077,0.70],[2083,0.52],[2090,0.59],[2099,0.46],
  [2106,0.52],[2113,0.42],[2119,0.36],[2129,0.39],[2138,0.29],[2148,0.32],[2158,0.26],[2168,0.19],[2178,0.22],[2188,0.16],
  [2198,0.19],[2208,0.16],[2218,0.12],[2228,0.19],[2238,0.16],[2248,0.22],[2257,0.19],[2267,0.26],[2277,0.22],[2287,0.32],
  [2296,0.29],[2306,0.39],[2316,0.36],[2325,0.46],[2334,0.49],[2347,0.66],[2353,0.73],[2363,0.80],[2369,0.70],[2376,0.62],
  [2383,0.86],[2386,0.66],[2392,0.80],[2398,0.70],[2408,0.86],[2415,0.62],[2425,0.70],[2437,0.52],[2444,0.59],[2450,0.49],
  [2454,0.42],[2460,0.52]
];

const seriesNames = ['Day', 'Night'];
const seriesColors = ['#0000ff', '#ff0000'];
const timeRange = ['2008-01-01', '2014-10-01'];

const FONT = '"Liberation Sans", Arial, sans-serif';
const INK = '#1a1a1a';
const DAY_MS = 86400000;
const ORIGIN = Date.UTC(2008, 0, 1);

function toDate(d) {
  return new Date(ORIGIN + d * DAY_MS).toISOString().slice(0, 10);
}

// Consecutive observations are joined; longer gaps break the line.
function toXY(pairs, maxGap) {
  const rows = pairs.slice().sort((a, b) => a[0] - b[0]);
  const x = [], y = [];
  rows.forEach((r, i) => {
    if (i > 0 && r[0] - rows[i - 1][0] > maxGap) { x.push(null); y.push(null); }
    x.push(toDate(r[0]));
    y.push(r[1]);
  });
  return { x, y };
}

function trace(pairs, k, xa, ya, maxGap, legend) {
  const xy = toXY(pairs, maxGap);
  return {
    type: 'scatter', mode: 'lines+markers',
    x: xy.x, y: xy.y, xaxis: xa, yaxis: ya,
    name: seriesNames[k], legendgroup: seriesNames[k], showlegend: legend,
    connectgaps: false,
    line: { color: seriesColors[k], width: 1.1 },
    marker: { color: seriesColors[k], size: 7 },
    hoverinfo: 'skip'
  };
}

function spacer(xa, ya) {
  return { type: 'scatter', x: [], y: [], xaxis: xa, yaxis: ya, showlegend: false, hoverinfo: 'skip' };
}

const data = [
  trace(so2Day, 0, 'x3', 'y3', 1, true),
  trace(so2Night, 1, 'x3', 'y3', 1, true),
  trace(tcDay, 0, 'x2', 'y2', 10, false),
  trace(tcNight, 1, 'x2', 'y2', 10, false),
  trace(h2oDay, 0, 'x', 'y', 10, false),
  trace(h2oNight, 1, 'x', 'y', 10, false),
  spacer('x4', 'y4'), spacer('x5', 'y5'), spacer('x6', 'y6')
];

function timeAxis(extra) {
  return Object.assign({
    type: 'date', range: timeRange, domain: [0, 1],
    tick0: '2008-01-01', dtick: 'M3',
    ticks: 'outside', ticklen: 18, tickwidth: 2, tickcolor: INK,
    showline: true, linewidth: 2, linecolor: INK,
    showgrid: false, zeroline: false, showticklabels: false, fixedrange: true,
    minor: { tick0: '2008-01-01', dtick: 'M1', ticks: 'outside', ticklen: 10, tickwidth: 1.8, tickcolor: INK, showgrid: false }
  }, extra);
}
function topAxis(base, anchor) {
  return timeAxis({
    overlaying: base, side: 'top', anchor: anchor,
    ticks: 'inside', ticklen: 16,
    minor: { tick0: '2008-01-01', dtick: 'M1', ticks: 'inside', ticklen: 9, tickwidth: 1.8, tickcolor: INK, showgrid: false }
  });
}
function valueAxis(extra) {
  return Object.assign({
    ticks: 'outside', ticklen: 18, tickwidth: 2, tickcolor: INK,
    showline: true, linewidth: 2, linecolor: INK,
    showgrid: false, zeroline: false, fixedrange: true,
    tickfont: { size: 24, color: INK }, ticklabelstandoff: 10
  }, extra);
}
function rightAxis(base, anchor, src) {
  return valueAxis({
    overlaying: base, side: 'right', anchor: anchor,
    range: src.range, tick0: src.tick0, dtick: src.dtick,
    ticks: 'inside', ticklen: 14, showticklabels: false,
    minor: { tick0: src.minor.tick0, dtick: src.minor.dtick, ticks: 'inside', ticklen: 7, tickwidth: 1.8, tickcolor: INK }
  });
}

const yH2O = valueAxis({
  domain: [0, 0.2869], anchor: 'x', range: [0, 2.5], tick0: 0, dtick: 0.5, tickformat: '.1f',
  minor: { tick0: 0, dtick: 0.25, ticks: 'outside', ticklen: 10, tickwidth: 1.8, tickcolor: INK },
  title: { text: 'H<sub>2</sub>O total column<br>(x10<sup>23</sup> molecules/cm<sup>2</sup>)', font: { size: 30, color: INK }, standoff: 20 }
});
const yTC = valueAxis({
  domain: [0.3554, 0.6446], anchor: 'x2', range: [-15, 35], tick0: 0, dtick: 10,
  minor: { tick0: 0, dtick: 5, ticks: 'outside', ticklen: 10, tickwidth: 1.8, tickcolor: INK },
  title: { text: 'Thermal contrast (K)', font: { size: 30, color: INK }, standoff: 6 }
});
const ySO2 = valueAxis({
  domain: [0.7131, 1], anchor: 'x3', range: [0, 40], tick0: 0, dtick: 5,
  minor: { tick0: 0, dtick: 2.5, ticks: 'outside', ticklen: 10, tickwidth: 1.8, tickcolor: INK },
  title: { text: 'SO<sub>2</sub> column (DU)', font: { size: 30, color: INK }, standoff: 18 }
});

const layout = {
  width: 1444, height: 1091,
  margin: { l: 180, r: 0, t: 21, b: 209 },
  paper_bgcolor: '#ffffff', plot_bgcolor: '#ffffff',
  font: { family: FONT, color: INK },
  showlegend: true,
  legend: {
    x: 0.8758, y: 0.9755, xanchor: 'left', yanchor: 'top',
    bgcolor: '#ffffff', bordercolor: '#555555', borderwidth: 1.5,
    font: { size: 20, color: INK }, tracegroupgap: 0, itemwidth: 62
  },
  xaxis: timeAxis({
    anchor: 'y', showticklabels: true, tickformat: '%-d/%m/%Y', tickangle: -90,
    tickfont: { size: 24, color: INK }, ticklabelstandoff: 6,
    title: { text: 'Time', font: { size: 34, color: INK }, standoff: 40 }
  }),
  xaxis2: timeAxis({ anchor: 'y2' }),
  xaxis3: timeAxis({ anchor: 'y3' }),
  xaxis4: topAxis('x', 'y4'),
  xaxis5: topAxis('x2', 'y5'),
  xaxis6: topAxis('x3', 'y6'),
  yaxis: yH2O,
  yaxis2: yTC,
  yaxis3: ySO2,
  yaxis4: rightAxis('y', 'x4', yH2O),
  yaxis5: rightAxis('y2', 'x5', yTC),
  yaxis6: rightAxis('y3', 'x6', ySO2)
};

Plotly.newPlot('chart', data, layout, { staticPlot: true, displayModeBar: false });
</script>
</body>
</html>
